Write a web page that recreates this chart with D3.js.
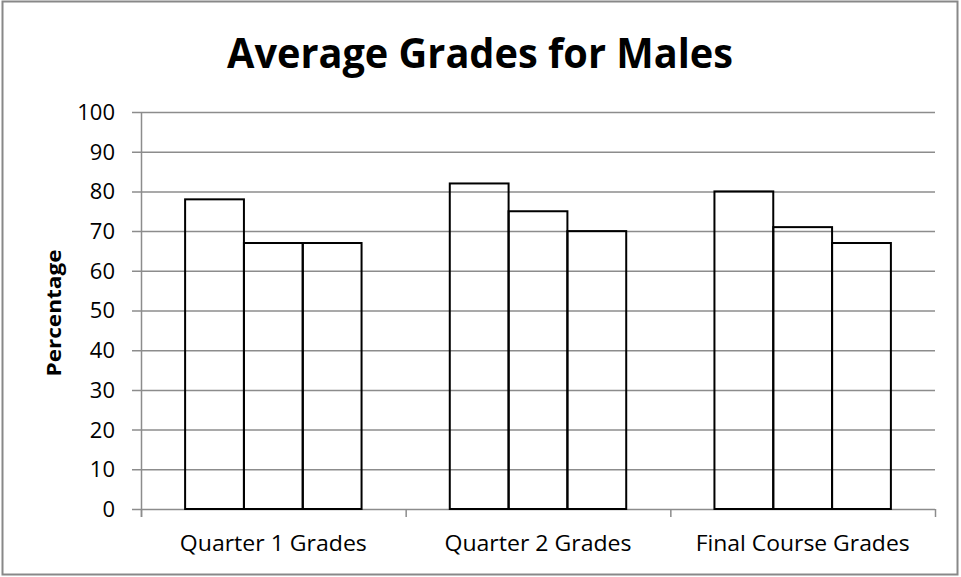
<!DOCTYPE html>
<html>
<head>
<meta charset="utf-8">
<script src="https://cdn.jsdelivr.net/npm/d3@7"></script>
<style>
  body { margin: 0; background: #fff; }
  svg { display: block; font-family: "Open Sans", "Noto Sans", sans-serif; }
</style>
</head>
<body>
<svg width="961" height="577"></svg>
<script>
const categories = ['Quarter 1 Grades', 'Quarter 2 Grades', 'Final Course Grades'];
const series = ['s1', 's2', 's3'];
const values = [
  [78, 67, 67],
  [82, 75, 70],
  [80, 71, 67]
];
const yTicks = [0, 10, 20, 30, 40, 50, 60, 70, 80, 90, 100];

const svg = d3.select('svg');
const margin = {left: 141, right: 26, top: 112, bottom: 68};
const W = 961, H = 577;

// outer frame
svg.append('rect')
  .attr('x', 2.5).attr('y', 1.5)
  .attr('width', 955).attr('height', 573)
  .attr('fill', 'none').attr('stroke', '#888').attr('stroke-width', 2);

const x0 = d3.scaleBand().domain(categories)
  .range([margin.left, W - margin.right]);
const x1 = d3.scaleBand().domain(series)
  .range([0, x0.bandwidth()]).paddingInner(0).paddingOuter(0.75);
const y = d3.scaleLinear().domain([0, 100]).range([H - margin.bottom, margin.top]);

// gridlines
svg.append('g').selectAll('line')
  .data(yTicks).enter()
  .append('line')
  .attr('x1', margin.left - 9).attr('x2', W - margin.right)
  .attr('y1', d => y(d) + 0.5).attr('y2', d => y(d) + 0.5)
  .attr('stroke', '#8c8c8c').attr('stroke-width', 1.5);

// y axis line
svg.append('line')
  .attr('x1', margin.left + 0.5).attr('x2', margin.left + 0.5)
  .attr('y1', y(100)).attr('y2', y(0) + 8)
  .attr('stroke', '#8c8c8c').attr('stroke-width', 1.5);

// x category ticks
const bounds = categories.map(c => x0(c)).concat([W - margin.right]);
svg.append('g').selectAll('line')
  .data(bounds).enter()
  .append('line')
  .attr('x1', d => d + 0.5).attr('x2', d => d + 0.5)
  .attr('y1', y(0)).attr('y2', y(0) + 8)
  .attr('stroke', '#8c8c8c').attr('stroke-width', 1.5);

// y tick labels
svg.append('g').selectAll('text')
  .data(yTicks).enter()
  .append('text')
  .attr('x', margin.left - 26)
  .attr('y', d => y(d))
  .attr('dy', '0.36em')
  .attr('text-anchor', 'end')
  .attr('font-size', 22)
  .attr('fill', '#000')
  .text(d => d);

// bars
const groups = svg.append('g').selectAll('g')
  .data(values).enter()
  .append('g')
  .attr('transform', (d, i) => `translate(${x0(categories[i])},0)`);
groups.selectAll('rect')
  .data(d => d).enter()
  .append('rect')
  .attr('x', (d, i) => x1(series[i]))
  .attr('y', d => y(d))
  .attr('width', x1.bandwidth())
  .attr('height', d => y(0) - y(d))
  .attr('fill', 'none')
  .attr('stroke', '#000')
  .attr('stroke-width', 2);

// category labels
const labelWidth = {'Quarter 1 Grades': 187, 'Quarter 2 Grades': 187, 'Final Course Grades': 214};
svg.append('g').selectAll('text')
  .data(categories).enter()
  .append('text')
  .attr('x', d => x0(d) + x0.bandwidth() / 2)
  .attr('y', y(0) + 42)
  .attr('text-anchor', 'middle')
  .attr('font-size', 22)
  .attr('fill', '#000')
  .attr('textLength', d => labelWidth[d])
  .attr('lengthAdjust', 'spacingAndGlyphs')
  .text(d => d);

// y label
svg.append('text')
  .attr('transform', `translate(61,313) rotate(-90)`)
  .attr('text-anchor', 'middle')
  .attr('font-size', 20)
  .attr('font-weight', 'bold')
  .attr('textLength', 127)
  .attr('lengthAdjust', 'spacingAndGlyphs')
  .text('Percentage');

// title
svg.append('text')
  .attr('x', 480).attr('y', 68)
  .attr('text-anchor', 'middle')
  .attr('font-size', 42)
  .attr('font-weight', 'bold')
  .attr('textLength', 506)
  .attr('lengthAdjust', 'spacingAndGlyphs')
  .text('Average Grades for Males');
</script>
</body>
</html>
